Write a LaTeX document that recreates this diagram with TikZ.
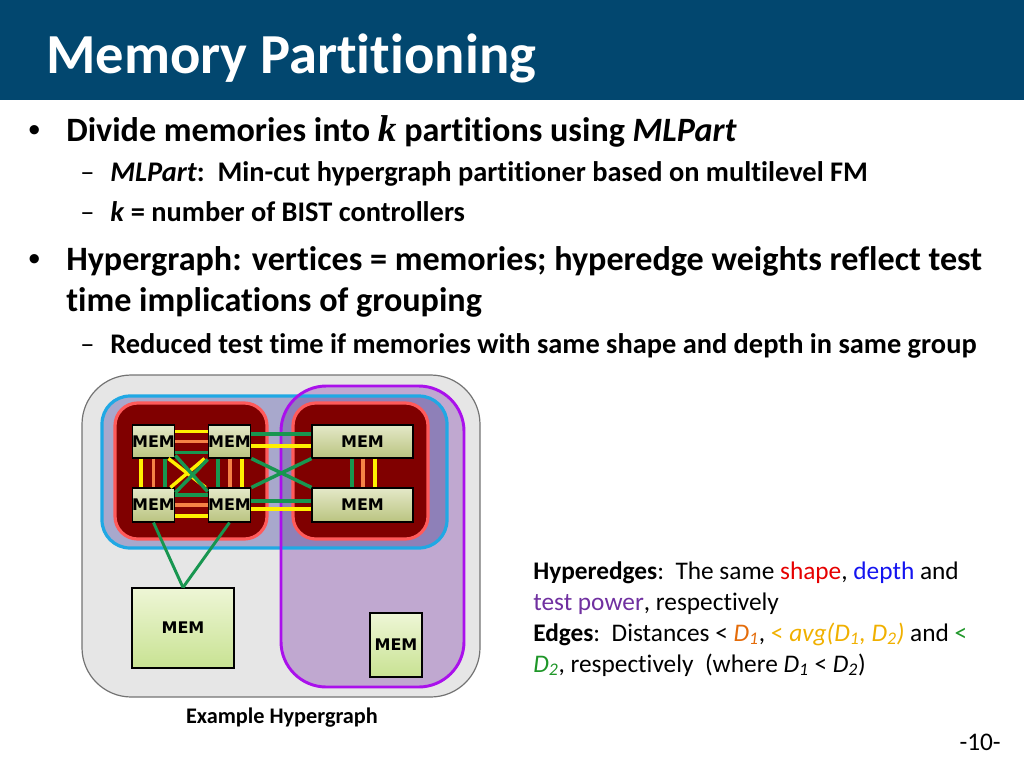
\documentclass[tikz,border=0pt]{standalone}
\usepackage{fontspec}
\setmainfont{Carlito}[Ligatures=NoCommon,RawFeature=-liga]
\newfontfamily\bulletfont{Liberation Sans}
\newfontfamily\memfont{DejaVu Sans}
\newfontfamily\kfont{Liberation Serif}
\usetikzlibrary{calc}
\definecolor{header}{RGB}{2,71,111}
\definecolor{bggrey}{RGB}{230,230,230}
\definecolor{hblue}{RGB}{168,168,204}
\definecolor{hpurple}{RGB}{192,168,208}
\definecolor{hboth}{RGB}{142,128,184}
\definecolor{blueline}{RGB}{32,168,228}
\definecolor{purpleline}{RGB}{170,16,236}
\definecolor{partred}{RGB}{128,0,0}
\definecolor{partline}{RGB}{255,90,90}
\definecolor{edgeyellow}{RGB}{255,240,0}
\definecolor{edgeorange}{RGB}{245,130,70}
\definecolor{edgegreen}{RGB}{24,150,80}
\definecolor{memtop}{RGB}{228,232,200}
\definecolor{membot}{RGB}{186,196,128}
\definecolor{bigtop}{RGB}{238,246,214}
\definecolor{bigbot}{RGB}{200,226,146}
\definecolor{shapered}{RGB}{230,0,0}
\definecolor{depthblue}{RGB}{20,20,240}
\definecolor{powerpurple}{RGB}{112,48,160}
\definecolor{done}{RGB}{228,108,10}
\definecolor{davg}{RGB}{240,176,0}
\definecolor{dtwo}{RGB}{30,150,40}
\tikzset{
  edge/.style={line width=2.6pt},
  yel/.style={edge,draw=edgeyellow},
  org/.style={edge,draw=edgeorange},
  grn/.style={edge,draw=edgegreen},
  mem/.style={draw=black,line width=0.8pt,top color=memtop,bottom color=membot,
    inner sep=0pt,font=\memfont\fontsize{12}{12}\selectfont\bfseries},
  bigmem/.style={mem,top color=bigtop,bottom color=bigbot},
  txt/.style={anchor=base west,inner sep=0pt},
  lvlone/.style={txt,font=\fontsize{25.6}{30}\selectfont\bfseries},
  lvltwo/.style={txt,font=\fontsize{21.3}{26}\selectfont\bfseries},
  bulletdot/.style={txt,font=\bulletfont\fontsize{25.6}{30}\selectfont},
  subdash/.style={txt,font=\fontsize{21.3}{26}\selectfont},
}
\begin{document}
\begin{tikzpicture}[x=0.75pt,y=-0.75pt]
  \useasboundingbox (0,0) rectangle (1024,768);
  % Title bar
  \fill[header] (0,0) rectangle (1024,100);
  \node[txt,text=white,font=\fontsize{42.4}{48}\selectfont\bfseries]
    (title) at (46,73) {Memory Partitioning};
  % Bullets
  \node[bulletdot] (dot1) at (28,141) {•};
  \node[lvlone] (line1) at (66,141) {Divide memories into {\kfont\itshape\fontsize{28}{30}\selectfont k} partitions using \textit{MLPart}};
  \node[subdash] (dash1) at (80,181) {–};
  \node[lvltwo] (line2) at (110,181) {\textit{MLPart}:\ \ Min-cut hypergraph partitioner based on multilevel FM};
  \node[subdash] (dash2) at (80,221) {–};
  \node[lvltwo] (line3) at (110,221) {\textit{k} = number of BIST controllers};
  \node[bulletdot] (dot2) at (28,270) {•};
  \node[lvlone] (line4) at (66,270) {Hypergraph: vertices = memories; hyperedge weights reflect test};
  \node[lvlone] (line5) at (66,311) {time implications of grouping};
  \node[subdash] (dash3) at (80,353) {–};
  \node[lvltwo] (line6) at (110,353) {Reduced test time if memories with same shape and depth in same group};
  % Hypergraph: hyperedges
  \filldraw[fill=bggrey,draw=black!55,line width=0.9pt,rounded corners=37pt] (82,375) rectangle (480,697);
  \fill[hpurple,rounded corners=34pt] (281,386) rectangle (464,687);
  \fill[hblue,rounded corners=21pt] (102,396) rectangle (447,548);
  \begin{scope}
    \clip[rounded corners=34pt] (281,386) rectangle (464,687);
    \fill[hboth,rounded corners=21pt] (102,396) rectangle (447,548);
  \end{scope}
  \draw[blueline,line width=2.4pt,rounded corners=21pt] (102,396) rectangle (447,548);
  \draw[purpleline,line width=2.2pt,rounded corners=34pt] (281,386) rectangle (464,687);
  \filldraw[fill=partred,draw=partline,line width=2.4pt,rounded corners=17pt] (115,403) rectangle (267,539);
  \filldraw[fill=partred,draw=partline,line width=2.4pt,rounded corners=17pt] (293,403) rectangle (428,539);
  % Memories
  \node[mem,minimum width=30.75pt,minimum height=24.75pt] (m1) at (153.5,441.5) {MEM};
  \node[mem,minimum width=30.75pt,minimum height=24.75pt] (m2) at (229.5,441.5) {MEM};
  \node[mem,minimum width=30.75pt,minimum height=25.5pt]  (m3) at (153.5,505) {MEM};
  \node[mem,minimum width=30.75pt,minimum height=25.5pt]  (m4) at (229.5,505) {MEM};
  \node[mem,minimum width=75.75pt,minimum height=24.75pt] (m5) at (362.5,441.5) {MEM};
  \node[mem,minimum width=75.75pt,minimum height=25.5pt]  (m6) at (362.5,505) {MEM};
  \node[bigmem,minimum width=76.5pt,minimum height=60pt]  (m7) at (183,628) {MEM};
  \node[bigmem,minimum width=39pt,minimum height=48pt]    (m8) at (396,645) {MEM};
  % Edges, left partition
  \draw[yel] ($(m1.east)+(0,-10)$) -- ($(m2.west)+(0,-10)$);
  \draw[org] (m1.east) -- (m2.west);
  \draw[grn] ($(m1.east)+(0,11)$) -- ($(m2.west)+(0,11)$);
  \draw[grn] ($(m3.east)+(0,-10)$) -- ($(m4.west)+(0,-10)$);
  \draw[org] (m3.east) -- (m4.west);
  \draw[yel] ($(m3.east)+(0,11)$) -- ($(m4.west)+(0,11)$);
  \draw[yel] ($(m1.south)+(-12.5,0)$) -- ($(m3.north)+(-12.5,0)$);
  \draw[org] (m1.south) -- (m3.north);
  \draw[grn] ($(m1.south)+(11.5,0)$) -- ($(m3.north)+(11.5,0)$);
  \draw[grn] ($(m2.south)+(-11.5,0)$) -- ($(m4.north)+(-11.5,0)$);
  \draw[org] ($(m2.south)+(0.5,0)$) -- ($(m4.north)+(0.5,0)$);
  \draw[yel] ($(m2.south)+(12.5,0)$) -- ($(m4.north)+(12.5,0)$);
  \draw[yel] ($(m1.south east)+(-7,0)$) -- ($(m4.north west)+(-2,0)$);
  \draw[yel] ($(m2.south west)+(-3,0)$) -- ($(m3.north east)+(-5,0)$);
  \draw[grn] ($(m1.south east)+(0,-3)$) -- ($(m4.north west)+(0,4)$);
  \draw[grn] ($(m2.south west)+(0,1)$) -- ($(m3.north east)+(0,5)$);
  % Edges, across and right partition
  \draw[grn] ($(m2.east)+(0,-7.5)$) -- ($(m5.west)+(0,-7.5)$);
  \draw[yel] ($(m2.east)+(0,4.5)$) -- ($(m5.west)+(0,4.5)$);
  \draw[grn] ($(m4.east)+(0,-4)$) -- ($(m6.west)+(0,-4)$);
  \draw[yel] ($(m4.east)+(0,4)$) -- ($(m6.west)+(0,4)$);
  \draw[grn] (m2.south east) -- (m6.north west);
  \draw[grn] (m4.north east) -- (m5.south west);
  \draw[grn] ($(m5.south)+(-10.5,0)$) -- ($(m6.north)+(-10.5,0)$);
  \draw[org] ($(m5.south)+(0.5,0)$) -- ($(m6.north)+(0.5,0)$);
  \draw[yel] ($(m5.south)+(12.5,0)$) -- ($(m6.north)+(12.5,0)$);
  \draw[grn,line width=2.2pt] (m3.south) -- (m7.north);
  \draw[grn,line width=2.2pt] (m4.south) -- (m7.north);
  \node[font=\fontsize{16.7}{20}\selectfont\bfseries] (caption) at (282,718) {Example Hypergraph};
  % Legend
  \node[anchor=north west,align=left,inner sep=0pt,font=\fontsize{19}{23.3}\selectfont]
    (legend) at (533,561) {\textbf{Hyperedges}:\ \ The same \textcolor{shapered}{shape}, \textcolor{depthblue}{depth} and\\
    \textcolor{powerpurple}{test power}, respectively\\
    \textbf{Edges}:\ \ Distances < \textcolor{done}{\textit{D\textsubscript{1}}}, \textcolor{davg}{< \textit{avg(D\textsubscript{1}, D\textsubscript{2})}} and \textcolor{dtwo}{<}\\
    \textcolor{dtwo}{\textit{D\textsubscript{2}}}, respectively\ \ (where \textit{D\textsubscript{1}} < \textit{D\textsubscript{2}})};
  \node[txt,anchor=base east,font=\fontsize{19}{23}\selectfont] (page) at (1001,750) {-10-};
\end{tikzpicture}
\end{document}
